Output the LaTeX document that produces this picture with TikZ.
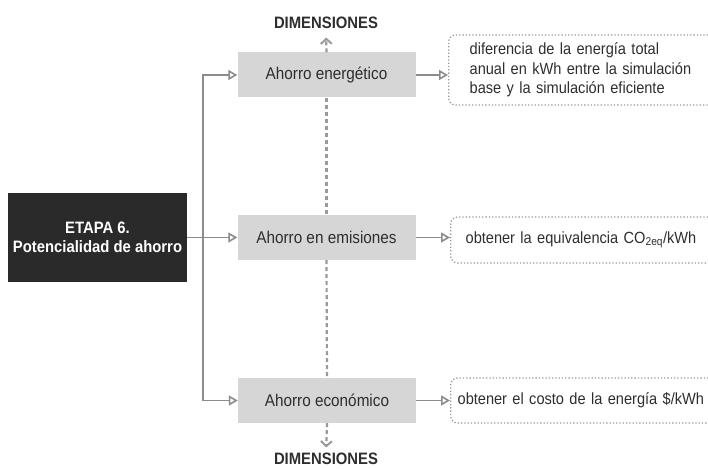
\documentclass[tikz,border=0pt]{standalone}
\usepackage{fontspec}
\setmainfont{Liberation Sans}[FakeStretch=0.9]
\usetikzlibrary{arrows.meta}
\definecolor{linegray}{HTML}{8C8C8C}
\definecolor{boxgray}{HTML}{D6D6D6}
\definecolor{dotgray}{HTML}{9A9A9A}
\definecolor{dark}{HTML}{2A2A2A}
\definecolor{txt}{HTML}{2E2E2E}
\tikzset{
  stagebox/.style={draw=none, fill=dark, text=white, font=\fontsize{16.5}{19}\selectfont\bfseries, align=center, minimum width=179pt, minimum height=89pt, inner sep=0pt},
  graybox/.style={draw=none, fill=boxgray, text=txt, font=\fontsize{17}{20}\selectfont, minimum width=178pt, minimum height=45pt, inner sep=0pt},
  dotbox/.style={draw=dotgray, dotted, line width=1.3pt, rounded corners=7pt, text=txt, font=\fontsize{16.2}{19.5}\selectfont, align=left, text width=320pt, anchor=west},
  dimlabel/.style={text=txt, font=\fontsize{16.5}{19}\selectfont\bfseries, inner sep=0pt},
  arr/.style={draw=linegray, line width=1.8pt, -{Triangle[open, length=9pt, width=10pt, line width=1.6pt]}},
  dimline/.style={draw=dotgray, line width=2.2pt, dash pattern=on 4pt off 3pt},
  dimarr/.style={dimline, -{Straight Barb[length=5pt, width=11pt, line width=2pt]}}
}
\begin{document}
\begin{tikzpicture}[x=1pt, y=-1pt]
\useasboundingbox (0,0) rectangle (708,468);
\node[stagebox] (etapa) at (97.5,237.5) {ETAPA 6.\\Potencialidad de ahorro};
\node[graybox] (g1) at (326.5,75) {Ahorro energético};
\node[graybox] (g2) at (326.5,237.5) {Ahorro en emisiones};
\node[graybox] (g3) at (327,400.5) {Ahorro económico};
\node[dotbox, minimum height=70pt, inner xsep=21pt] (r1) at (448,70) {diferencia de la energía total\\anual en kWh entre la simulación\\base y la simulación eficiente};
\node[dotbox, minimum height=46pt, inner xsep=15pt] (r2) at (450,240) {obtener la equivalencia CO\textsubscript{2eq}/kWh};
\node[dotbox, minimum height=45pt, inner xsep=7pt] (r3) at (450,400.5) {obtener el costo de la energía \$/kWh};
\node[dimlabel] (dimtop) at (326,22.5) {DIMENSIONES};
\node[dimlabel] (dimbot) at (326,458.5) {DIMENSIONES};
\coordinate (spine) at (203,237.5);
% left connectors
\draw[arr] (spine) |- (g1.west);
\draw[arr] (spine) |- (g3.west);
\draw[arr] (etapa.east) -- (g2.west);
% right connectors
\draw[arr] (g1.east) -- (g1.east -| r1.west);
\draw[arr] (g2.east) -- (g2.east -| r2.west);
\draw[arr] (g3.east) -- (g3.east -| r3.west);
% dimension lines
\draw[dimarr, shorten >=9pt] (g1.north) -- (dimtop.south);
\draw[dimline] (g1.south) -- (g2.north);
\draw[dimline] (g2.south) -- (g3.north);
\draw[dimarr, shorten >=5pt] (g3.south) -- (dimbot.north);
\end{tikzpicture}
\end{document}
